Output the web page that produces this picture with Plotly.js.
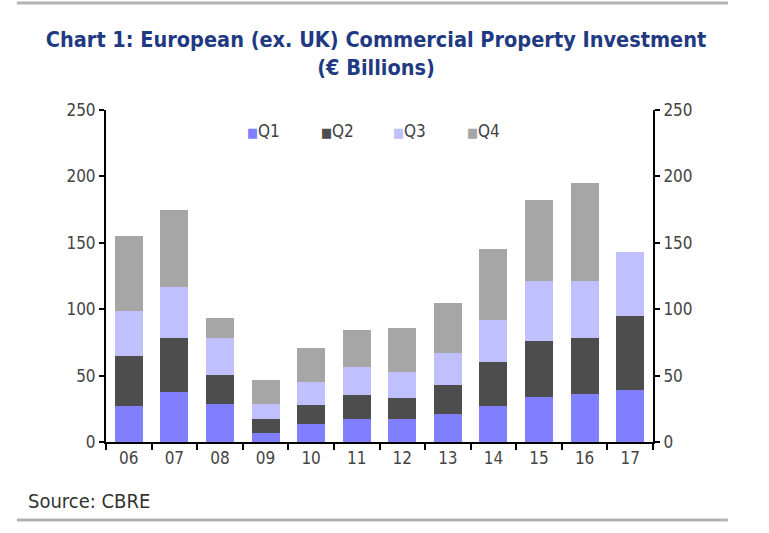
<!DOCTYPE html>
<html><head><meta charset="utf-8">
<script src="https://cdn.plot.ly/plotly-3.0.1.min.js"></script>
<style>html,body{margin:0;padding:0;background:#fff}</style>
</head><body><div id="chart" style="width:769px;height:533px"></div>
<script>
const years = ['06','07','08','09','10','11','12','13','14','15','16','17'];
const seriesNames = ['Q1','Q2','Q3','Q4'];
const q1 = [27, 38, 28.6, 6.5, 13.8, 17.6, 17.6, 21, 27, 34, 36, 39.4];
const q2 = [38, 40, 21.7, 10.8, 14, 18, 15.8, 22.3, 33, 42, 42.5, 55.8];
const q3 = [34, 39, 28, 11, 17.3, 20.6, 19, 24, 31.6, 45, 42.7, 48];
const q4 = [56, 57.5, 15, 18.6, 26, 28, 33.4, 37, 53.5, 61, 74, null];
const yTicks = [0, 50, 100, 150, 200, 250];
const colors = ['#8080ff', '#4d4d4d', '#c0c0ff', '#a6a6a6'];

const FONT = 'DejaVu Sans Condensed, Liberation Sans Narrow, Arial Narrow, sans-serif';
const series = [q1, q2, q3, q4];
const traces = series.map((vals, i) => ({
  type: 'bar', x: years, y: vals, name: seriesNames[i],
  marker: {color: colors[i], line: {width: 0}},
  showlegend: false, hoverinfo: 'x+y+name'
}));
traces.push({type: 'scatter', x: years, y: q1, yaxis: 'y2', mode: 'none',
  showlegend: false, hoverinfo: 'skip'});

const legendX = [0.254, 0.389, 0.521, 0.656];
const annotations = seriesNames.map((n, i) => ({
  xref: 'paper', yref: 'paper', x: legendX[i], y: 0.937,
  xanchor: 'left', yanchor: 'middle', showarrow: false,
  text: '<span style="color:' + colors[i] + ';font-size:13px">■</span>' + n,
  font: {family: FONT, size: 17, color: '#404040'}
}));
annotations.push({
  xref: 'paper', yref: 'paper', x: -0.146, y: -0.178,
  xanchor: 'left', yanchor: 'middle', showarrow: false,
  text: 'Source: CBRE', font: {family: FONT, size: 20, color: '#333333'}
});

const axisY = {
  range: [0, 250], tickvals: yTicks, ticktext: yTicks.map(String),
  showline: true, linecolor: '#000', linewidth: 2, ticks: 'outside',
  ticklen: 5, tickwidth: 2, tickcolor: '#000', showgrid: false, zeroline: false,
  tickfont: {family: FONT, size: 17, color: '#444444'}, fixedrange: true
};

const layout = {
  width: 769, height: 533,
  margin: {l: 106, r: 116, t: 110, b: 91},
  paper_bgcolor: '#fff', plot_bgcolor: '#fff',
  barmode: 'stack', bargap: 0.386,
  title: {
    text: '<b>Chart 1: European (ex. UK) Commercial Property Investment<br>(€ Billions)</b>',
    font: {family: FONT, size: 21.5, color: '#1f3a82'},
    x: 0.489, xref: 'container', xanchor: 'center',
    y: 0.912, yref: 'container', yanchor: 'top'
  },
  xaxis: {
    type: 'category', showline: true, linecolor: '#000', linewidth: 2,
    ticks: 'outside', tickson: 'boundaries', ticklen: 6, tickwidth: 2, tickcolor: '#000',
    showgrid: false, tickfont: {family: FONT, size: 17, color: '#444444'}, fixedrange: true
  },
  yaxis: Object.assign({}, axisY, {side: 'left'}),
  yaxis2: Object.assign({}, axisY, {side: 'right', overlaying: 'y', anchor: 'x'}),
  showlegend: false,
  annotations: annotations,
  shapes: [
    {type: 'line', xref: 'paper', yref: 'paper', x0: -0.163, x1: 1.137, y0: 1.322, y1: 1.322,
     line: {color: '#b3b3b3', width: 3}},
    {type: 'line', xref: 'paper', yref: 'paper', x0: -0.163, x1: 1.137, y0: -0.235, y1: -0.235,
     line: {color: '#b3b3b3', width: 3}}
  ]
};

Plotly.newPlot('chart', traces, layout, {displayModeBar: false, staticPlot: true});
</script></body></html>
